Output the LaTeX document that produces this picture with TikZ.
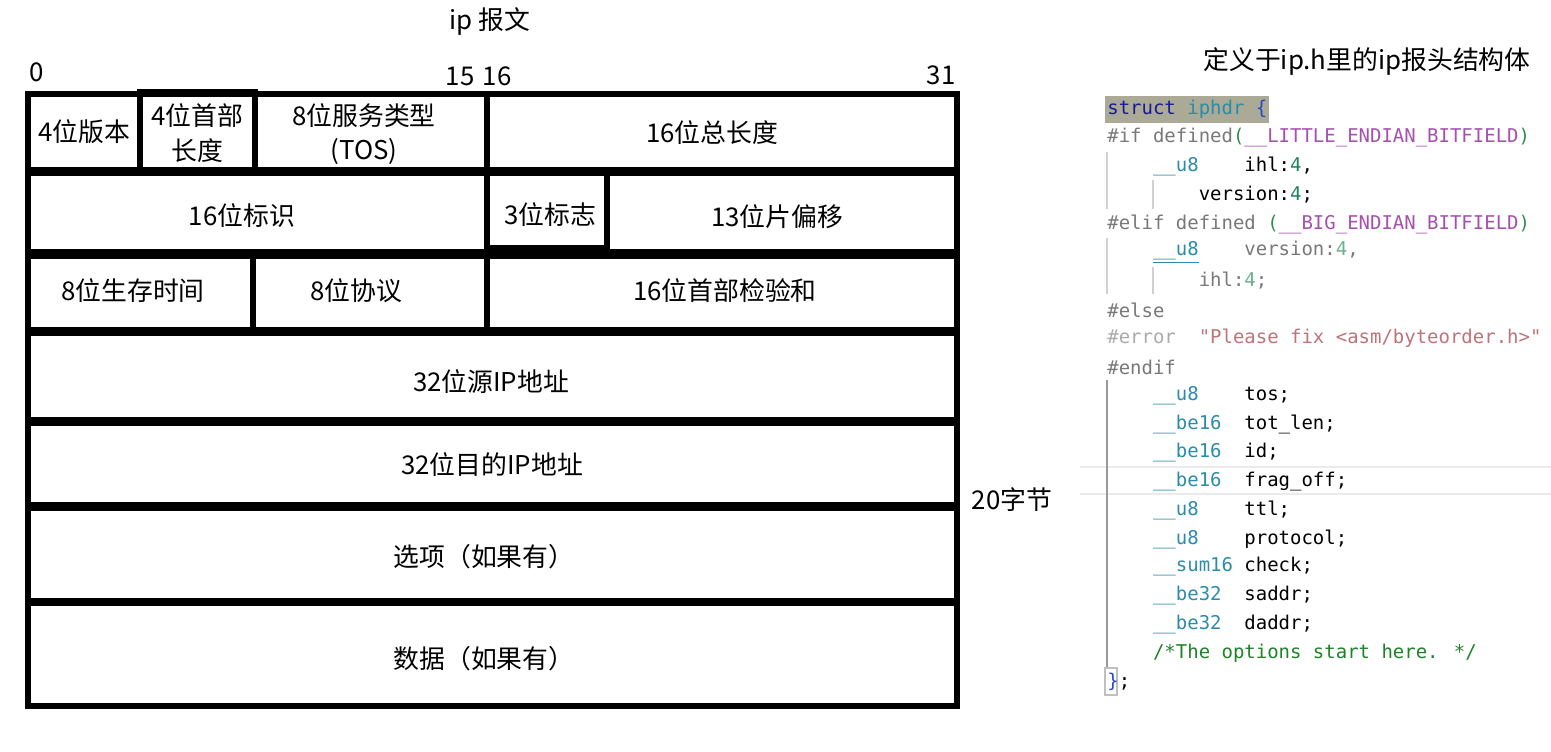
\documentclass[tikz,border=0pt]{standalone}
\usepackage{fontspec}
\setmainfont{Noto Sans CJK SC}
\newfontfamily\codefont{DejaVu Sans Mono}

\definecolor{kwblue}{RGB}{25,25,150}
\definecolor{typeteal}{RGB}{43,140,170}
\definecolor{braceblue}{RGB}{40,70,200}
\definecolor{ppgray}{RGB}{120,120,120}
\definecolor{pplight}{RGB}{170,170,170}
\definecolor{parengreen}{RGB}{50,140,80}
\definecolor{macropurple}{RGB}{165,80,175}
\definecolor{numgreen}{RGB}{30,130,100}
\definecolor{numlight}{RGB}{110,175,145}
\definecolor{strrose}{RGB}{190,115,120}
\definecolor{cmtgreen}{RGB}{30,130,40}
\definecolor{hlback}{RGB}{170,170,150}

\tikzset{
    cell/.style={line width=3pt},
    lbl/.style={font=\fontsize{14.7}{19.5}\selectfont, inner sep=0pt, align=center},
    code/.style={font=\codefont\fontsize{10.8}{13}\selectfont, anchor=west, inner sep=0pt},
    guide/.style={draw=black!18, line width=0.7pt}
}

\begin{document}
\begin{tikzpicture}[x=0.02cm, y=-0.02cm]
    \useasboundingbox (0,0) rectangle (1551,751);

    % title and bit numbers
    \node[lbl] (title) at (490,22) {ip 报文};
    \node[lbl] (bit0) at (37,72) {0};
    \node[lbl] (bit15) at (460,76) {15};
    \node[lbl] (bit16) at (497,76) {16};
    \node[lbl] (bit31) at (941,75) {31};

    % row 1
    \draw[cell] (28,94) rectangle (957,170);
    \draw[cell] (140,92) rectangle (255,170);
    \draw[cell] (487,94) -- (487,170);
    \node[lbl] (ver) at (84,132) {4位版本};
    \node[lbl] (ihl) at (197,133) {4位首部\\长度};
    \node[lbl] (tos) at (364,134) {8位服务类型\\(TOS)};
    \node[lbl] (totlen) at (712,133) {16位总长度};

    % row 2
    \draw[cell] (28,173) rectangle (957,252);
    \draw[cell] (487,173) rectangle (607,248);
    \node[lbl] (ident) at (242,216) {16位标识};
    \node[lbl] (flags) at (550,215) {3位标志};
    \node[lbl] (fragoff) at (777,217) {13位片偏移};

    % row 3
    \draw[cell] (28,256) rectangle (957,330);
    \draw[cell] (253,256) -- (253,330);
    \draw[cell] (487,256) -- (487,330);
    \node[lbl] (ttl) at (133,291) {8位生存时间};
    \node[lbl] (proto) at (356,291) {8位协议};
    \node[lbl] (check) at (725,291) {16位首部检验和};

    % addresses, options, data
    \draw[cell] (28,333) rectangle (957,420);
    \node[lbl] (saddr) at (491,382) {32位源IP地址};
    \draw[cell] (28,423) rectangle (957,505);
    \node[lbl] (daddr) at (492,465) {32位目的IP地址};
    \draw[cell] (28,508) rectangle (957,601);
    \node[lbl] (opts) at (484,557) {选项（如果有）};
    \draw[cell] (28,603) rectangle (957,706);
    \node[lbl] (data) at (484,659) {数据（如果有）};

    \node[lbl] (bytes) at (1012,500) {20字节};

    % struct iphdr listing
    \node[lbl] (structtitle) at (1367,62) {定义于ip.h里的ip报头结构体};

    \fill[hlback] (1105,96) rectangle (1269,123);
    \draw[black!8, line width=0.8pt] (1080,467) -- (1551,467);
    \draw[black!8, line width=0.8pt] (1080,494) -- (1551,494);
    \draw[guide] (1107,152) -- (1107,209);
    \draw[guide] (1153,180) -- (1153,209);
    \draw[guide] (1107,238) -- (1107,294);
    \draw[guide] (1153,267) -- (1153,294);
    \draw[draw=black!40, line width=0.8pt] (1107,380) -- (1107,667);
    \draw[draw=black!25, line width=0.7pt] (1105,668) rectangle (1117,695);

    \node[code] (l0) at (1107,109) {{\color{kwblue}struct} {\color{typeteal}iphdr} {\color{braceblue}\{}};
    \node[code] (l1) at (1107,138) {{\color{ppgray}\#if defined}{\color{parengreen}(}{\color{macropurple}\_\_LITTLE\_ENDIAN\_BITFIELD}{\color{parengreen})}};
    \node[code] (l2) at (1107,166) {~~~~{\color{typeteal}\_\_u8}~~~~ihl:{\color{numgreen}4},};
    \node[code] (l3) at (1107,195) {~~~~~~~~version:{\color{numgreen}4};};
    \node[code] (l4) at (1107,224) {{\color{ppgray}\#elif defined }{\color{parengreen}(}{\color{macropurple}\_\_BIG\_ENDIAN\_BITFIELD}{\color{parengreen})}};
    \node[code] (l5) at (1107,252) {~~~~{\color{typeteal}\underline{\_\_u8}}~~~~{\color{ppgray}version:}{\color{numlight}4}{\color{ppgray},}};
    \node[code] (l6) at (1107,281) {~~~~~~~~{\color{ppgray}ihl:}{\color{numlight}4}{\color{ppgray};}};
    \node[code] (l7) at (1107,310) {{\color{ppgray}\#else}};
    \node[code] (l8) at (1107,338) {{\color{pplight}\#error}~~{\color{strrose}"Please fix <asm/byteorder.h>"}};
    \node[code] (l9) at (1107,367) {{\color{ppgray}\#endif}};
    \node[code] (l10) at (1107,396) {~~~~{\color{typeteal}\_\_u8}~~~~tos;};
    \node[code] (l11) at (1107,424) {~~~~{\color{typeteal}\_\_be16}~~tot\_len;};
    \node[code] (l12) at (1107,453) {~~~~{\color{typeteal}\_\_be16}~~id;};
    \node[code] (l13) at (1107,482) {~~~~{\color{typeteal}\_\_be16}~~frag\_off;};
    \node[code] (l14) at (1107,510) {~~~~{\color{typeteal}\_\_u8}~~~~ttl;};
    \node[code] (l15) at (1107,539) {~~~~{\color{typeteal}\_\_u8}~~~~protocol;};
    \node[code] (l16) at (1107,567) {~~~~{\color{typeteal}\_\_sum16}~check;};
    \node[code] (l17) at (1107,596) {~~~~{\color{typeteal}\_\_be32}~~saddr;};
    \node[code] (l18) at (1107,625) {~~~~{\color{typeteal}\_\_be32}~~daddr;};
    \node[code] (l19) at (1107,653) {~~~~{\color{cmtgreen}/*The options start here. */}};
    \node[code] (l20) at (1107,682) {{\color{braceblue}\}};};
\end{tikzpicture}
\end{document}
